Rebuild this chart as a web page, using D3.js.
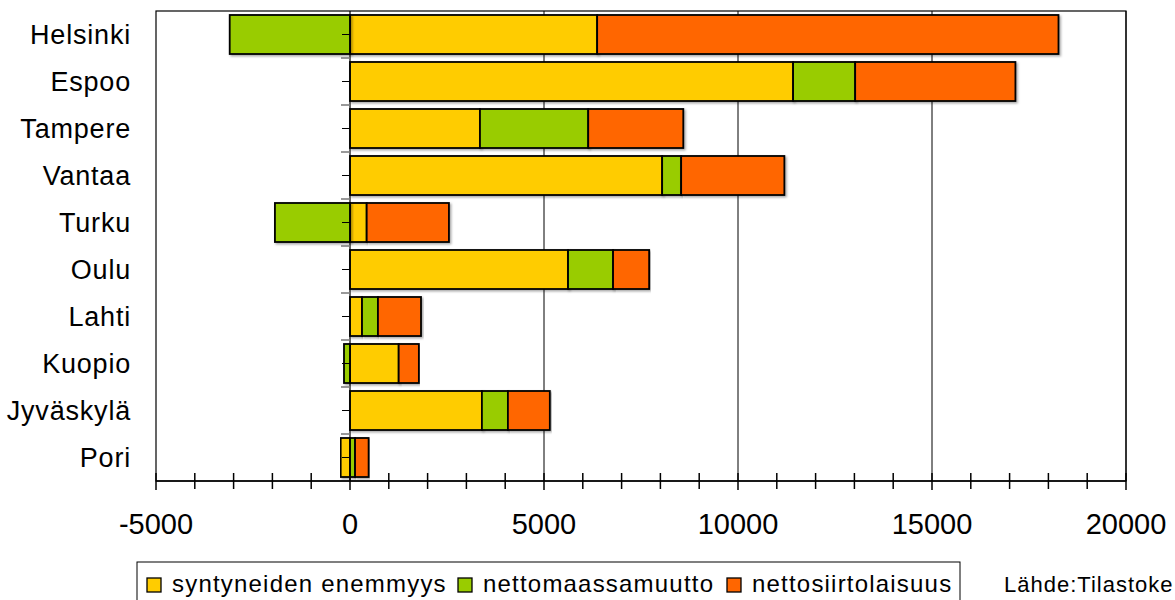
<!DOCTYPE html>
<html><head><meta charset="utf-8">
<script src="https://cdn.jsdelivr.net/npm/d3@7"></script>
<style>body{margin:0;background:#fff;} svg{display:block;font-family:"Liberation Sans",Arial,sans-serif;}</style>
</head><body>
<svg id="c" width="1175" height="600"></svg>
<script>
const cities = ["Helsinki","Espoo","Tampere","Vantaa","Turku","Oulu","Lahti","Kuopio","Jyväskylä","Pori"];
const seriesNames = ["syntyneiden enemmyys","nettomaassamuutto","nettosiirtolaisuus"];
const births   = [6370, 11420, 3350, 8045,   430, 5620, 310, 1255, 3400, -240];
const domestic = [-3100, 1600, 2790,  490, -1935, 1160, 410, -155,  670,  130];
const immig    = [11890, 4130, 2450, 2660,  2120,  930, 1110, 520, 1080,  350];
const xTicks = [-5000, 0, 5000, 10000, 15000, 20000];
const colors = ["#FFCC00","#99CC00","#FF6600"];
const source = "Lähde:Tilastoke";

const rows = cities.map((c,i)=>({city:c, s0:births[i], s1:domestic[i], s2:immig[i]}));
const svg = d3.select("#c");
const L=156, R=1126, T=11, B=481;
const x = d3.scaleLinear().domain([-5000,20000]).range([L,R]);
const y = d3.scaleBand().domain(cities).range([T,B]).paddingInner(0.17).paddingOuter(0.085);
const yb = d3.scaleBand().domain(cities).range([T,B]);

// plot border
svg.append("rect").attr("x",L).attr("y",T).attr("width",R-L).attr("height",B-T)
  .attr("fill","none").attr("stroke","#000").attr("stroke-width",1.2);
// gridlines
svg.append("g").selectAll("line").data(xTicks.filter(v=>v>0)).join("line")
  .attr("x1",d=>x(d)).attr("x2",d=>x(d)).attr("y1",T).attr("y2",B)
  .attr("stroke","#000").attr("stroke-width",1);

const stack = d3.stack().keys(["s0","s1","s2"]).offset(d3.stackOffsetDiverging);
const layers = stack(rows);
const defs = svg.append("defs");
const f = defs.append("filter").attr("id","sh").attr("x","-5%").attr("y","-10%").attr("width","110%").attr("height","125%");
f.append("feDropShadow").attr("dx",1.5).attr("dy",1.5).attr("stdDeviation",0.8).attr("flood-color","#000").attr("flood-opacity",0.35);

svg.append("g").selectAll("g").data(layers).join("g")
  .attr("fill",(d,i)=>colors[i])
  .selectAll("rect").data(d=>d).join("rect")
  .attr("x",d=>x(Math.min(d[0],d[1])))
  .attr("width",d=>Math.abs(x(d[1])-x(d[0])))
  .attr("y",d=>y(d.data.city)).attr("height",y.bandwidth())
  .attr("stroke","#000").attr("stroke-width",1.8).attr("filter","url(#sh)");

// category axis at zero
const ax0 = x(0);
svg.append("line").attr("x1",ax0).attr("x2",ax0).attr("y1",T).attr("y2",B).attr("stroke","#000").attr("stroke-width",1.2);
svg.append("g").selectAll("line").data(cities).join("line")
  .attr("x1",ax0-8).attr("x2",ax0).attr("y1",d=>yb(d)+yb.bandwidth()/2).attr("y2",d=>yb(d)+yb.bandwidth()/2)
  .attr("stroke","#000").attr("stroke-width",1);
svg.append("g").selectAll("line").data(cities.slice(1)).join("line")
  .attr("x1",ax0-9).attr("x2",ax0).attr("y1",d=>yb(d)).attr("y2",d=>yb(d))
  .attr("stroke","#777").attr("stroke-width",1.5);

// category labels
svg.append("g").selectAll("text").data(cities).join("text")
  .attr("x",131).attr("y",d=>yb(d)+yb.bandwidth()/2).attr("dy","0.36em")
  .attr("text-anchor","end").attr("font-size",27).attr("letter-spacing",0.8).attr("fill","#000").text(d=>d);

// x axis
svg.append("line").attr("x1",L).attr("x2",R).attr("y1",B).attr("y2",B).attr("stroke","#000").attr("stroke-width",1.5);
const minor = d3.range(-5000,20001,1000);
svg.append("g").selectAll("line").data(minor).join("line")
  .attr("x1",d=>x(d)).attr("x2",d=>x(d)).attr("y1",B-8).attr("y2",d=>xTicks.includes(d)?B+9:B+8)
  .attr("stroke","#000").attr("stroke-width",1.5);
svg.append("g").selectAll("text").data(xTicks).join("text")
  .attr("x",d=>x(d)).attr("y",534).attr("text-anchor","middle").attr("font-size",29).attr("fill","#000").text(d=>d);

// legend
const lg = svg.append("g");
lg.append("rect").attr("x",137).attr("y",562).attr("width",823).attr("height",50).attr("fill","#fff").attr("stroke","#000").attr("stroke-width",1);
const lx = [147, 458, 727];
seriesNames.forEach((n,i)=>{
  lg.append("rect").attr("x",lx[i]).attr("y",578).attr("width",14).attr("height",14).attr("fill",colors[i]).attr("stroke","#000").attr("stroke-width",1.3);
  lg.append("text").attr("x",lx[i]+25).attr("y",592).attr("font-size",24).attr("letter-spacing",1.2).attr("fill","#000").text(n);
});
svg.append("text").attr("x",1004).attr("y",592).attr("font-size",22).attr("letter-spacing",1).attr("fill","#000").text(source);
</script>
</body></html>
